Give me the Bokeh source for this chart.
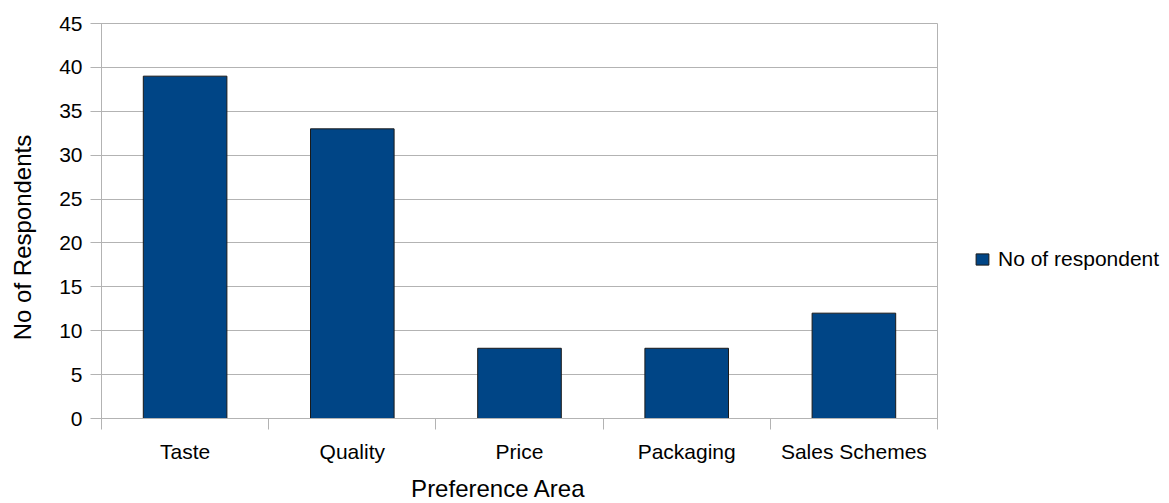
from bokeh.plotting import figure
from bokeh.models import (Range1d, FixedTicker, Label, Legend, LegendItem,
                          ColumnDataSource, LinearAxis, Grid)
from bokeh.embed import file_html
from bokeh.resources import INLINE

categories = ["Taste", "Quality", "Price", "Packaging", "Sales Schemes"]
respondents = [39, 33, 8, 8, 12]
y_ticks = [0, 5, 10, 15, 20, 25, 30, 35, 40, 45]
series_name = "No of respondent"
x_title = "Preference Area"
y_title = "No of Respondents"

FONT = "Liberation Sans"
GRID = "#b3b3b3"
BAR = "#004586"

# canvas and plot-area geometry (pixels)
W, H = 1169, 503
L, R, T, B = 101, 937, 23, 418
Y_MAX = 45

n = len(categories)
sx = (R - L) / n
sy = (B - T) / Y_MAX
def px_x(px):
    return (px - L) / sx
def px_y(py):
    return (B - py) / sy

positions = [i + 0.5 for i in range(n)]
boundaries = list(range(n + 1))
source = ColumnDataSource(dict(x=positions, top=respondents, cat=categories))

p = figure(width=W, height=H, output_backend="svg", toolbar_location=None,
           x_range=Range1d(px_x(0), px_x(W)), y_range=Range1d(px_y(H), px_y(0)),
           min_border=0, min_border_left=0, min_border_right=0,
           min_border_top=0, min_border_bottom=0,
           x_axis_location=None, y_axis_location=None)
p.outline_line_color = None
p.background_fill_color = "white"
p.border_fill_color = "white"
p.renderers = [rr for rr in p.renderers if not isinstance(rr, Grid)]
p.center = [c for c in p.center if not isinstance(c, Grid)]

r = p.vbar(x="x", top="top", width=0.5, source=source,
           fill_color=BAR, line_color="#1a1a1a", line_width=1)

# y axis: its inward ticks form the horizontal grid lines
ya = LinearAxis(fixed_location=0, bounds=(0, Y_MAX), ticker=FixedTicker(ticks=y_ticks),
                level="underlay")
ya.axis_line_color = GRID
ya.major_tick_line_color = GRID
ya.major_tick_in = R - L
ya.major_tick_out = 11
ya.minor_tick_line_color = None
ya.major_label_standoff = 8
ya.major_label_text_font = FONT
ya.major_label_text_font_size = "21px"
ya.major_label_text_color = "black"
p.add_layout(ya, "left")

# right border of the plot area
ra = LinearAxis(fixed_location=n, bounds=(0, Y_MAX), ticker=FixedTicker(ticks=[]),
                level="underlay")
ra.axis_line_color = GRID
ra.major_tick_line_color = None
ra.minor_tick_line_color = None
ra.major_label_text_font_size = "0px"
p.add_layout(ra, "right")

# x axis: category names centred, tick marks between categories
xa = LinearAxis(fixed_location=0, bounds=(0, n),
                ticker=FixedTicker(ticks=positions, minor_ticks=boundaries))
xa.major_label_overrides = {pos: c for pos, c in zip(positions, categories)}
xa.axis_line_color = GRID
xa.major_tick_in = 0
xa.major_tick_out = 0
xa.major_tick_line_color = None
xa.minor_tick_in = 0
xa.minor_tick_out = 11
xa.minor_tick_line_color = GRID
xa.major_label_standoff = 10
xa.major_label_text_font = FONT
xa.major_label_text_font_size = "21px"
xa.major_label_text_color = "black"
p.add_layout(xa, "below")

p.add_layout(Label(x=px_x(498), y=px_y(488), text=x_title, text_align="center",
                   text_baseline="middle", text_font=FONT, text_font_size="24px",
                   text_color="black"))
p.add_layout(Label(x=px_x(22), y=px_y(237), text=y_title, text_align="center",
                   text_baseline="middle", angle=1.5707963, text_font=FONT,
                   text_font_size="24px", text_color="black"))

legend = Legend(items=[LegendItem(label=series_name, renderers=[r])],
                location=(974, H - 271), glyph_width=16, glyph_height=14,
                label_text_font=FONT, label_text_font_size="21px",
                label_text_color="black",
                label_standoff=8, padding=0, margin=0, spacing=0,
                border_line_color=None, background_fill_alpha=0)
p.add_layout(legend)

open("out.html", "w").write(file_html(p, INLINE))
